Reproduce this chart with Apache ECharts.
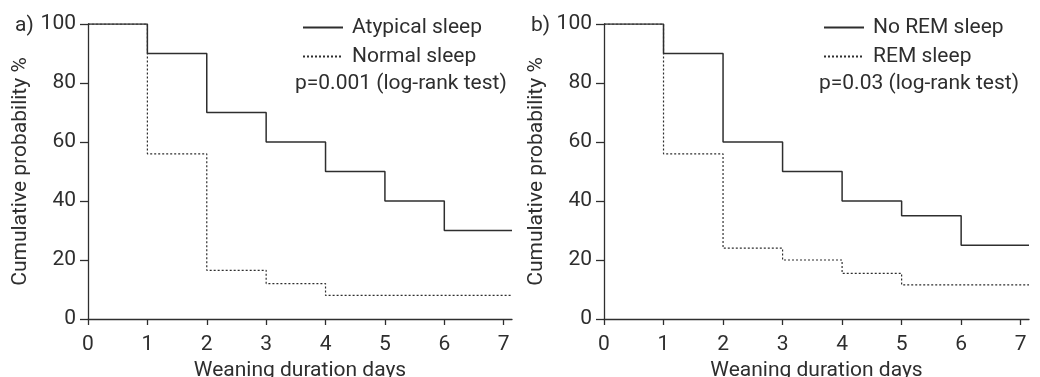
<!DOCTYPE html>
<html>
<head>
<meta charset="utf-8">
<script src="https://cdn.jsdelivr.net/npm/echarts@6/dist/echarts.min.js"></script>
<style>
  html, body { margin: 0; padding: 0; background: #fff; }
  #chart { width: 1040px; height: 377px; }
</style>
</head>
<body>
<div id="chart"></div>
<script>
// step points: [day, cumulative probability %]
const dayTicks = [0, 1, 2, 3, 4, 5, 6, 7];
const yTicks = [0, 20, 40, 60, 80, 100];
const xEnd = 7.14;

const atypicalSleep = [[0, 100], [1, 90], [2, 70], [3, 60], [4, 50], [5, 40], [6, 30], [xEnd, 30]];
const normalSleep = [[0, 100], [1, 56], [2, 16.5], [3, 12], [4, 8], [xEnd, 8]];
const noRemSleep = [[0, 100], [1, 90], [2, 60], [3, 50], [4, 40], [5, 35], [6, 25], [xEnd, 25]];
const remSleep = [[0, 100], [1, 56], [2, 24], [3, 20], [4, 15.5], [5, 11.6], [xEnd, 11.6]];

const panelLabels = ['a)', 'b)'];
const pTexts = ['p=0.001 (log-rank test)', 'p=0.03 (log-rank test)'];

const fontFamily = "Roboto, 'Noto Sans', sans-serif";
const ink = '#2e2e2e';
const fs = 21;

const chart = echarts.init(document.getElementById('chart'));

const makeX = (gridIndex) => ({
  type: 'value',
  gridIndex,
  min: 0,
  max: xEnd,
  interval: 1,
  name: 'Weaning duration days',
  nameLocation: 'middle',
  nameGap: 38,
  nameTextStyle: { color: ink, fontSize: fs, fontFamily },
  axisLine: { lineStyle: { color: ink, width: 1.3 } },
  axisTick: { customValues: dayTicks, length: 6, lineStyle: { color: ink, width: 1.3 } },
  axisLabel: { customValues: dayTicks, color: ink, fontSize: fs, fontFamily, margin: 15 },
  splitLine: { show: false },
});

const makeY = (gridIndex) => ({
  type: 'value',
  gridIndex,
  min: 0,
  max: 100,
  interval: 20,
  name: 'Cumulative probability %',
  nameLocation: 'middle',
  nameGap: 57,
  nameTextStyle: { color: ink, fontSize: fs, fontFamily },
  axisLine: { show: true, lineStyle: { color: ink, width: 1.3 } },
  axisTick: { show: true, length: 8, lineStyle: { color: ink, width: 1.3 } },
  axisLabel: { customValues: yTicks, color: ink, fontSize: fs, fontFamily, margin: 12 },
  splitLine: { show: false },
});

const makeSeries = (name, data, idx, dotted) => ({
  name,
  type: 'line',
  step: 'end',
  data,
  xAxisIndex: idx,
  yAxisIndex: idx,
  symbol: 'none',
  silent: true,
  z: dotted ? 2 : 3,
  lineStyle: { color: ink, width: dotted ? 1.2 : 1.5, type: dotted ? [2, 2] : 'solid' },
  itemStyle: { color: ink },
});

const makeLegend = (left, names) => ({
  left,
  top: 11,
  orient: 'vertical',
  itemWidth: 40,
  itemHeight: 14,
  itemGap: 6,
  data: names,
  selectedMode: false,
  itemStyle: { opacity: 0 },
  textStyle: { color: ink, fontSize: fs, fontFamily, lineHeight: 23, padding: [0, 0, 0, 4] },
});

const textTitle = (text, left, top) => ({
  text, left, top,
  padding: 0,
  textStyle: { color: ink, fontSize: fs, fontWeight: 'normal', fontFamily },
});

chart.setOption({
  animation: false,
  textStyle: { fontFamily },
  title: [
    textTitle(panelLabels[0], 15, 15),
    textTitle(panelLabels[1], 531, 15),
    textTitle(pTexts[0], 295, 73),
    textTitle(pTexts[1], 819, 73),
  ],
  legend: [
    makeLegend(297, ['Atypical sleep', 'Normal sleep']),
    makeLegend(818, ['No REM sleep', 'REM sleep']),
  ],
  grid: [
    { left: 88, top: 24, width: 424, height: 295, outerBoundsMode: 'none', containLabel: false },
    { left: 604, top: 24, width: 425, height: 295, outerBoundsMode: 'none', containLabel: false },
  ],
  xAxis: [makeX(0), makeX(1)],
  yAxis: [makeY(0), makeY(1)],
  series: [
    makeSeries('Atypical sleep', atypicalSleep, 0, false),
    makeSeries('Normal sleep', normalSleep, 0, true),
    makeSeries('No REM sleep', noRemSleep, 1, false),
    makeSeries('REM sleep', remSleep, 1, true),
  ],
});

window.addEventListener('resize', () => chart.resize());
</script>
</body>
</html>
